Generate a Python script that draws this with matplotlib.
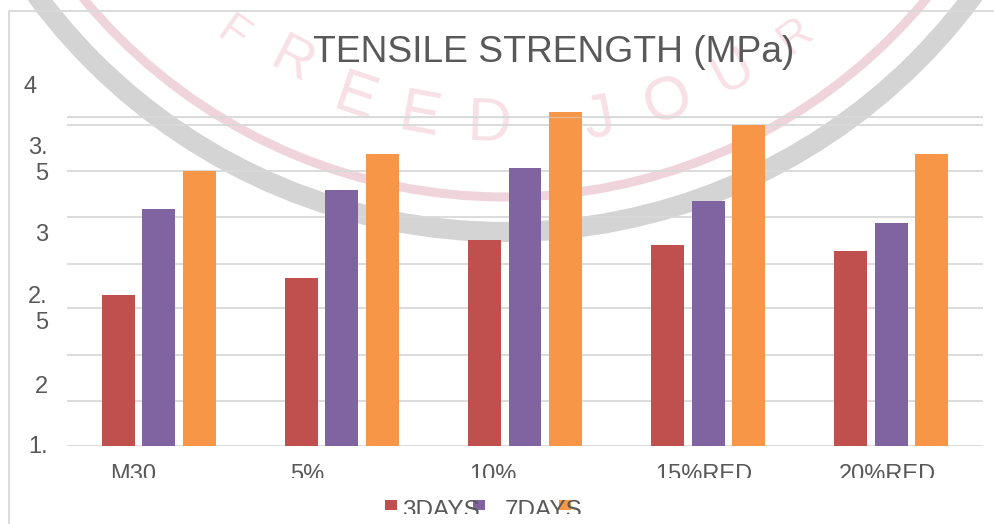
import numpy as np
import matplotlib
matplotlib.use('Agg')
from matplotlib import pyplot as plt
from matplotlib.patches import Circle, Rectangle
from matplotlib.transforms import Bbox, blended_transform_factory

plt.rcParams['font.family'] = ['Liberation Sans', 'DejaVu Sans']

categories = ['M30', '5%', '10%', '15%RED', '20%RED']
days3 = [2.54, 2.66, 2.92, 2.89, 2.85]
days7 = [3.14, 3.27, 3.42, 3.19, 3.04]
days28 = [3.40, 3.52, 3.81, 3.72, 3.52]
series_names = ['3DAYS', '7DAYS', '']

# the picture has the gridlines and labels out of step, so both are listed
grid_vals = [1.5, 1.81, 2.13, 2.45, 2.76, 3.08, 3.40, 3.72, 3.77]
ytick_vals = [3.98, 3.47, 2.96, 2.44, 1.91, 1.49]
ytick_text = ['4', '3.\n5', '3', '2.\n5', '2', '1.']
xtick_vals = [-0.14, 0.813, 1.823, 2.974, 3.976]

W, H = 995, 524
red, purple, orange = '#C0504D', '#8064A2', '#F79646'
text_col = '#595959'
grid_col = '#D9D9D9'

# stamp letters behind the chart (letter, x, y in pixels, size)
stamp = [('F', 232, 34, 32), ('R', 292, 62, 40), ('E', 355, 100, 44), ('E', 420, 117, 44), ('D', 490, 125, 44),
         ('J', 600, 120, 44), ('O', 668, 103, 44), ('U', 733, 72, 40), ('R', 795, 36, 32)]

fig = plt.figure(figsize=(W/100, H/100), dpi=100)

bg = fig.add_axes([0, 0, 1, 1], zorder=0)
bg.set_xlim(0, W)
bg.set_ylim(H, 0)
bg.axis('off')
bg.add_patch(Circle((505, -350), 582, fill=False, color='#D4D4D4', lw=14.5))
bg.add_patch(Circle((505, -350), 547, fill=False, color='#F0D4DC', lw=6.5))
for s, x, y, size in stamp:
    rot = -np.degrees(np.arctan2(505-x, y+350))
    bg.text(x, y, s, color='#F7E0E6', fontsize=size, rotation=rot, ha='center', va='center')
bg.plot([9, 9, W], [H, 11, 11], color=grid_col, lw=1.3)

ax = fig.add_axes([67/W, 1-446/H, 916/W, 362/H], zorder=1)
ax.patch.set_visible(False)
for s in ax.spines.values():
    s.set_visible(False)
ax.set_xlim(-0.5, 4.5)
ax.set_ylim(1.5, 4)

xs = np.arange(len(categories))
step, width = 0.221, 0.18
ax.bar(xs-step, np.array(days3)-1.5, width, bottom=1.5, color=red, zorder=3)
ax.bar(xs, np.array(days7)-1.5, width, bottom=1.5, color=purple, zorder=3)
ax.bar(xs+step, np.array(days28)-1.5, width, bottom=1.5, color=orange, zorder=3)

ax.set_yticks(grid_vals)
ax.set_yticklabels([])
ax.tick_params(axis='y', length=0)
ax.grid(axis='y', color=grid_col, lw=1.3, zorder=1)
ax.axhline(3.77, color=grid_col, lw=1.0, alpha=0.5, zorder=4)

label_tr = blended_transform_factory(fig.transFigure, ax.transData)
for v, t in zip(ytick_vals, ytick_text):
    xp = 37 if t == '4' else 48
    ax.text(xp/W, v, t, transform=label_tr, ha='right', va='center', fontsize=17,
            color=text_col, linespacing=1.25, clip_on=False)

ax.set_xticks(xtick_vals, categories)
ax.tick_params(axis='x', length=0, pad=13, labelsize=17, labelcolor=text_col)
for lab in ax.get_xticklabels():
    lab.set_clip_box(Bbox([[0, H-478], [W, H]]))
    lab.set_clip_on(True)

fig.text(553.5/W, 1-52/H, 'TENSILE STRENGTH (MPa)', fontsize=26.8, color=text_col, ha='center', va='center')

for x0, c in [(385, red), (473, purple), (559, orange)]:
    fig.add_artist(Rectangle((x0/W, 1-510/H), 12/W, 10/H, transform=fig.transFigure, color=c, lw=0))
for x0, name in [(402, series_names[0]), (505, series_names[1])]:
    t = fig.text(x0/W, 1-517/H, name, fontsize=17.5, color=text_col, ha='left', va='baseline')
    t.set_clip_box(Bbox([[0, H-514], [W, H]]))
    t.set_clip_on(True)

fig.savefig('out.png', dpi=100)
